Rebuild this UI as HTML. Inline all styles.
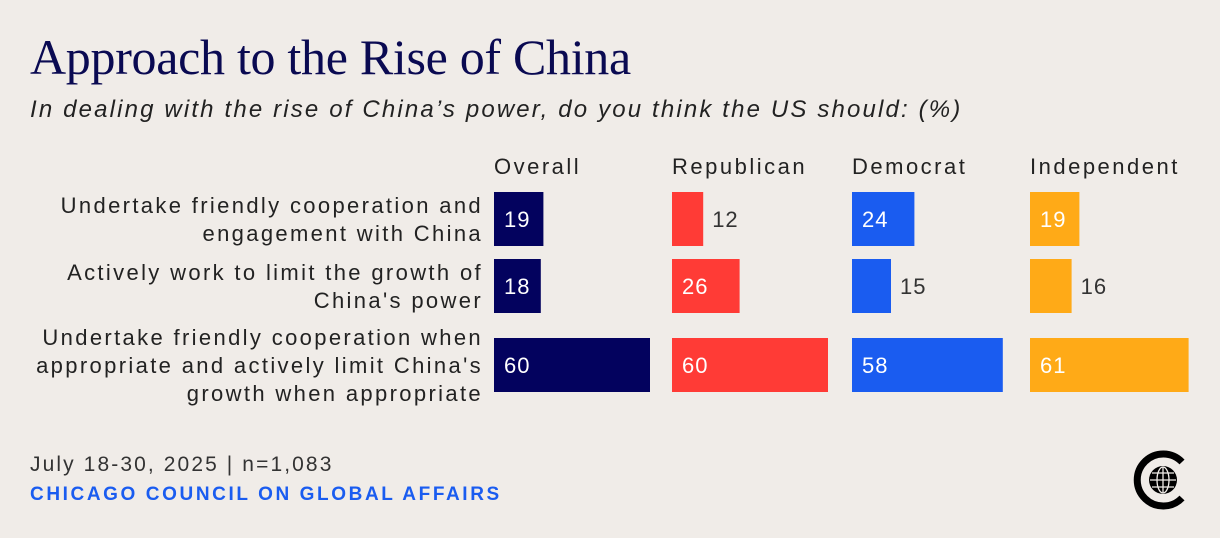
<!DOCTYPE html>
<html><head><meta charset="utf-8"><style>
body{margin:0;width:1220px;height:538px;background:#f0ece8;font-family:"Liberation Sans",sans-serif;overflow:hidden;position:relative}
.t{position:absolute;white-space:nowrap}
</style></head><body>
<div class="t" style="left:30px;top:28px;font-family:'Liberation Serif',serif;font-size:50px;color:#0a0a52;letter-spacing:-0.3px">Approach to the Rise of China</div>
<div class="t" style="left:30px;top:96px;font-size:24px;font-style:italic;color:#222;letter-spacing:2.15px">In dealing with the rise of China’s power, do you think the US should: (%)</div>
<svg id="c" width="1220" height="538" style="position:absolute;left:0;top:0" font-family="Liberation Sans, sans-serif"></svg>
<div class="t" style="left:30px;top:453px;font-size:21px;color:#333;letter-spacing:2.1px">July 18-30, 2025 | n=1,083</div>
<div class="t" style="left:30px;top:484px;font-size:19px;font-weight:bold;color:#1a5cf0;letter-spacing:2.6px">CHICAGO COUNCIL ON GLOBAL AFFAIRS</div>
<svg width="80" height="80" style="position:absolute;left:1120px;top:440px">
<path d="M62 22 A26 26 0 1 0 62 58" fill="none" stroke="#000" stroke-width="7"/>
<circle cx="43" cy="40" r="14" fill="#000"/>
<g stroke="#f0ece8" stroke-width="1.3" fill="none"><ellipse cx="43" cy="40" rx="6" ry="13"/><line x1="30" y1="40" x2="56" y2="40"/><line x1="32" y1="33" x2="54" y2="33"/><line x1="32" y1="47" x2="54" y2="47"/><line x1="43" y1="27" x2="43" y2="53"/></g>
</svg>
<script>
const groups=["Overall","Republican","Democrat","Independent"];
const colors=["#03025e","#ff3b36","#1a5cf0","#ffaa17"];
const rowLabels=[["Undertake friendly cooperation and","engagement with China"],["Actively work to limit the growth of","China's power"],["Undertake friendly cooperation when","appropriate and actively limit China's","growth when appropriate"]];
const overall=[19,18,60];
const republican=[12,26,60];
const democrat=[24,15,58];
const independent=[19,16,61];
const series=[overall,republican,democrat,independent];
const svg=document.getElementById('c');const NS='http://www.w3.org/2000/svg';
const gx=[494,672,852,1030],rowY=[192,259,338],bh=54;
const xs=v=>v*2.6;
function mk(t,a){const e=document.createElementNS(NS,t);for(const k in a)e.setAttribute(k,a[k]);svg.appendChild(e);return e;}
groups.forEach((g,i)=>{const e=mk('text',{x:gx[i],y:174,'font-size':22,fill:'#222','letter-spacing':2.5});e.textContent=g;

});
rowLabels.forEach((ls,r)=>{const n=ls.length;const cy=rowY[r]+bh/2;ls.forEach((l,j)=>{const e=mk('text',{x:483,y:cy+8+(j-(n-1)/2)*28,'font-size':22,fill:'#222','text-anchor':'end','letter-spacing':2.35});e.textContent=l;

});});
series.forEach((s,i)=>s.forEach((v,r)=>{const w=xs(v);const b=mk('rect',{x:gx[i],y:rowY[r],width:w,height:bh,fill:colors[i]});


const inside=v>=18;const t=mk('text',{x:inside?gx[i]+10:gx[i]+w+9,y:rowY[r]+bh/2+8,'font-size':22,fill:inside?'#fff':'#333','letter-spacing':1});t.textContent=v;

}));
</script>
</body></html>
